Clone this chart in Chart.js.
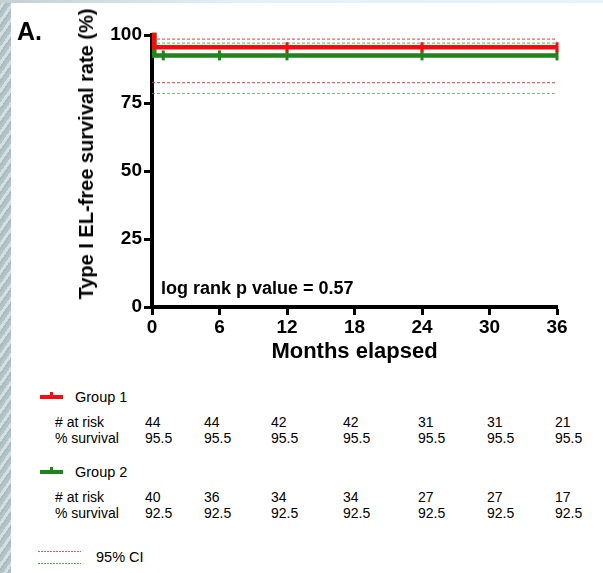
<!DOCTYPE html>
<html lang="en">
<head>
<meta charset="UTF-8">
<title>Type I EL-free survival</title>
<script src="https://cdn.jsdelivr.net/npm/chart.js"></script>
<style>
    html, body {
        margin: 0;
        width: 603px;
        height: 573px;
        overflow: hidden;
    }
    body {
        position: relative;
        font-family: "Liberation Sans", Arial, sans-serif;
        color: #000;
        background: repeating-linear-gradient(125deg, #b3c4c8 0 3px, #d3dfe2 3px 6px, #a9bcc1 6px 8px);
    }
    #topstrip {
        position: absolute; left: 0; top: 0; width: 603px; height: 3px;
        background: linear-gradient(90deg, #c4d0d3, #e2f1f6 40%, #e6f4f9);
    }
    #panel {
        position: absolute; left: 11px; top: 3px; right: 0; bottom: 0;
        background: #fff;
    }
    #chart { position: absolute; left: 0; top: 0; }
    .txt { position: absolute; line-height: 1; white-space: nowrap; }
    .bold { font-weight: bold; }
    #ytitle {
        font-size: 20px; font-weight: bold;
        transform: translate(-50%, -50%) rotate(-90deg);
    }
    .small { font-size: 14.5px; }
    .row { font-size: 14px; }
    .marker { position: absolute; width: 23px; height: 4px; }
    .marker::after {
        content: ""; position: absolute; left: 10px; top: -3px; width: 3px; height: 4px;
        background: inherit;
    }
    .dots { position: absolute; width: 43px; height: 1px; }
    #dotsRed { background: repeating-linear-gradient(90deg, #f0506a 0 2px, transparent 2px 3px); }
    #dotsGreen { background: repeating-linear-gradient(90deg, #5aae5a 0 2px, transparent 2px 3px); }
</style>
</head>
<body>
<div id="topstrip"></div>
<div id="panel"></div>
<canvas id="chart" width="603" height="370"></canvas>
<div class="txt bold" style="left:17px;top:19px;font-size:25px;">A.</div>
<div id="ytitle" class="txt" style="left:86px;top:154px;">Type I EL-free survival rate (%)</div>
<div class="txt bold" style="left:161px;top:279px;font-size:18px;">log rank p value = 0.57</div>
<div id="table"></div>
<div id="dotsRed" class="dots" style="left:38px;top:551px;"></div>
<div id="dotsGreen" class="dots" style="left:38px;top:563px;"></div>

<script>
    // axis ticks / risk table columns (months)
    const months = [0, 6, 12, 18, 24, 30, 36];
    const yTicks = [0, 25, 50, 75, 100];

    // Kaplan-Meier steps
    const g1Times = [0, 0.2, 36];
    const g1Surv = [100, 95.5, 95.5];
    const g2Times = [0, 0.2, 36];
    const g2Surv = [100, 92.5, 92.5];

    // censored observations (months)
    const g1Censored = [12, 24, 36];
    const g2Censored = [1, 6, 12, 24, 36];

    // 95% CI bounds [lower, upper]
    const g1CI = [82.5, 98.5];
    const g2CI = [78.5, 97];

    // numbers at risk table
    const g1AtRisk = [44, 44, 42, 42, 31, 31, 21];
    const g1PctSurv = ['95.5', '95.5', '95.5', '95.5', '95.5', '95.5', '95.5'];
    const g2AtRisk = [40, 36, 34, 34, 27, 27, 17];
    const g2PctSurv = ['92.5', '92.5', '92.5', '92.5', '92.5', '92.5', '92.5'];

    const RED = '#f20e0e';
    const GREEN = '#1f841c';
    const RED_CI = 'rgba(235, 45, 45, 0.75)';
    const GREEN_CI = 'rgba(70, 160, 70, 0.7)';

    function survAt(times, surv, t) {
        let v = surv[0];
        for (let i = 0; i < times.length; i++) if (times[i] <= t) v = surv[i];
        return v;
    }
    const pts = (xs, ys) => xs.map((x, i) => ({ x: x, y: ys[i] }));
    const ciLine = (v, color) => ({
        data: [{ x: 0, y: v }, { x: 36, y: v }],
        borderColor: color, borderWidth: 1.2, borderDash: [3, 2],
        pointRadius: 0, fill: false
    });
    const censor = (times, kmT, kmS, color) => ({
        type: 'scatter',
        data: times.map(t => ({ x: t, y: survAt(kmT, kmS, t) })),
        pointStyle: 'line', pointRotation: 90, pointRadius: 5,
        pointBorderWidth: 3, pointBorderColor: color, borderColor: color,
        clip: false
    });

    const tickFont = { family: '"Liberation Sans", Arial, sans-serif', size: 19, weight: 'bold' };

    new Chart(document.getElementById('chart'), {
        type: 'line',
        data: {
            datasets: [
                censor(g1Censored, g1Times, g1Surv, RED),
                { data: pts(g1Times, g1Surv), borderColor: RED, borderWidth: 4.5, stepped: 'before', pointRadius: 0, clip: false, fill: false },
                censor(g2Censored, g2Times, g2Surv, GREEN),
                { data: pts(g2Times, g2Surv), borderColor: GREEN, borderWidth: 4.5, stepped: 'before', pointRadius: 0, clip: false, fill: false },
                ciLine(g1CI[1], RED_CI), ciLine(g1CI[0], RED_CI),
                ciLine(g2CI[1], GREEN_CI), ciLine(g2CI[0], GREEN_CI)
            ]
        },
        options: {
            responsive: false,
            animation: false,
            layout: { padding: { left: 0, top: 35, right: 46, bottom: 5 } },
            plugins: { legend: { display: false }, tooltip: { enabled: false } },
            scales: {
                x: {
                    type: 'linear', min: 0, max: 36,
                    afterFit(s) { s.height = 58; },
                    afterBuildTicks(s) { s.ticks = months.map(v => ({ value: v })); },
                    ticks: { font: tickFont, color: '#000', padding: 1 },
                    grid: { drawOnChartArea: false, tickLength: 8, tickWidth: 3, color: '#000' },
                    border: { width: 4, color: '#000' },
                    title: {
                        display: true, text: 'Months elapsed', color: '#000',
                        font: { family: '"Liberation Sans", Arial, sans-serif', size: 22, weight: 'bold' },
                        padding: { top: 0, bottom: 0 }
                    }
                },
                y: {
                    min: 0, max: 100,
                    afterFit(s) { s.width = 152; },
                    afterBuildTicks(s) { s.ticks = yTicks.map(v => ({ value: v })); },
                    ticks: { font: tickFont, color: '#000', padding: 2 },
                    grid: { drawOnChartArea: false, tickLength: 8, tickWidth: 3, color: '#000' },
                    border: { width: 4, color: '#000' }
                }
            }
        }
    });

    // risk table below the plot
    const colX = [145, 204, 271, 343, 418, 487, 555];
    const table = document.getElementById('table');
    function addText(text, left, top, cls) {
        const d = document.createElement('div');
        d.className = 'txt ' + cls;
        d.style.left = left + 'px';
        d.style.top = top + 'px';
        d.textContent = text;
        table.appendChild(d);
    }
    function addGroup(name, color, top, atRisk, pct) {
        const m = document.createElement('div');
        m.className = 'marker';
        m.style.left = '40px';
        m.style.top = (top + 5) + 'px';
        m.style.background = color;
        table.appendChild(m);
        addText(name, 75, top, 'small');
        addText('# at risk', 55, top + 25, 'row');
        addText('% survival', 55, top + 41, 'row');
        colX.forEach((x, i) => {
            addText(String(atRisk[i]), x, top + 25, 'row');
            addText(pct[i], x, top + 41, 'row');
        });
    }
    addGroup('Group 1', RED, 390, g1AtRisk, g1PctSurv);
    addGroup('Group 2', GREEN, 465, g2AtRisk, g2PctSurv);
    addText('95% CI', 96, 550, 'small');
</script>
</body>
</html>
